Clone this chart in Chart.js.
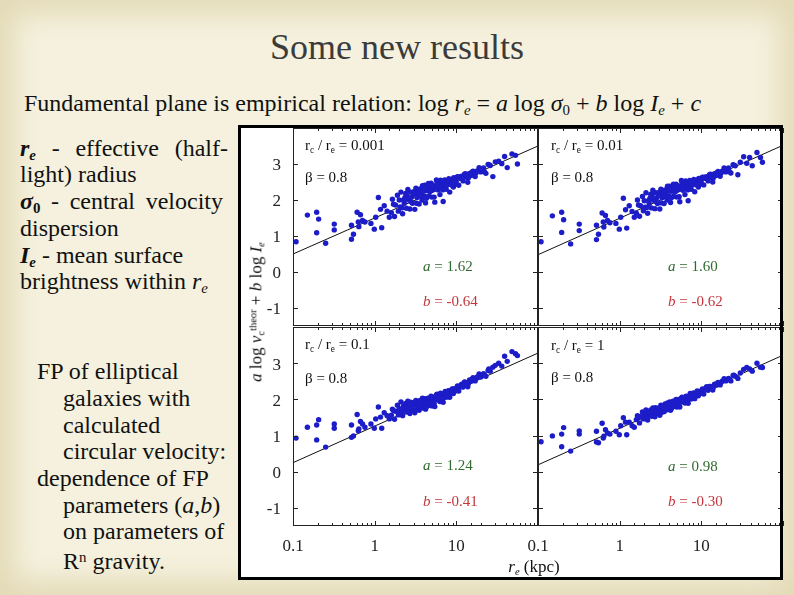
<!DOCTYPE html>
<html>
<head>
<meta charset="utf-8">
<script src="https://cdn.jsdelivr.net/npm/chart.js@4.4.1/dist/chart.umd.min.js"></script>
<style>
  html, body { margin: 0; padding: 0; }
  body {
    width: 794px; height: 595px; position: relative; overflow: hidden;
    background: #f5f1de;
    font-family: "Liberation Serif", "Times New Roman", serif;
    color: #111;
  }
  .edge { position: absolute; left: 0; top: 0; width: 794px; height: 595px;
    box-shadow: inset 0 0 28px 14px #e3dab6; pointer-events: none; }
  .abs { position: absolute; white-space: nowrap; }
  .title { left: 0; width: 794px; top: 29px; text-align: center; font-size: 36px; line-height: 36px; color: #3b3b3b; }
  .sub { left: 24px; top: 91px; font-size: 24px; line-height: 24px; }
  .txt { font-size: 24px; line-height: 24px; }
  .spread { display: flex; justify-content: space-between; }
  .lo { font-size: 0.62em; vertical-align: -0.28em; }
  .hi { font-size: 0.62em; vertical-align: 0.5em; }
  .ptxt { font-size: 15px; line-height: 15px; }
  .green { color: #2f6a2f; }
  .red { color: #c4353a; }
  #figBg { position: absolute; left: 238px; top: 125px; width: 545px; height: 455px; background: #fff; }
  #figBorder { position: absolute; left: 238px; top: 125px; width: 545px; height: 455px;
    border: 3px solid #000; box-sizing: border-box; pointer-events: none; }
  canvas { position: absolute; }
  .ylab { left: 257px; top: 312px; font-size: 17px; line-height: 17px;
    transform: translate(-50%, -50%) rotate(-90deg); }
  .xlab { left: 534px; top: 558px; font-size: 17px; line-height: 17px; transform: translateX(-50%); }
</style>
</head>
<body>
<div class="edge"></div>

<div class="abs title">Some new results</div>
<div class="abs sub">Fundamental plane is empirical relation: log <i>r<span class="lo">e</span></i> = <i>a</i> log <i>σ</i><span class="lo">0</span> + <i>b</i> log <i>I<span class="lo">e</span></i> + <i>c</i></div>

<div class="abs txt spread" style="left:20px; top:136px; width:208px;"><span><b><i>r<span class="lo">e</span></i></b></span><span>-</span><span>effective</span><span>(half-</span></div>
<div class="abs txt" style="left:20px; top:162px;">light) radius</div>
<div class="abs txt spread" style="left:20px; top:189px; width:203px;"><span><b><i>σ</i><span class="lo">0</span></b></span><span>-</span><span>central</span><span>velocity</span></div>
<div class="abs txt" style="left:20px; top:216px;">dispersion</div>
<div class="abs txt" style="left:20px; top:243px;"><b><i>I<span class="lo">e</span></i></b> - mean surface</div>
<div class="abs txt" style="left:20px; top:269px;">brightness within <i>r<span class="lo">e</span></i></div>

<div class="abs txt" style="left:37px; top:359px;">FP of elliptical</div>
<div class="abs txt" style="left:63px; top:386px;">galaxies with</div>
<div class="abs txt" style="left:63px; top:413px;">calculated</div>
<div class="abs txt" style="left:63px; top:439px;">circular velocity:</div>
<div class="abs txt" style="left:37px; top:466px;">dependence of FP</div>
<div class="abs txt" style="left:63px; top:493px;">parameters (<i>a</i>,<i>b</i>)</div>
<div class="abs txt" style="left:63px; top:519px;">on parameters of</div>
<div class="abs txt" style="left:63px; top:545px;">R<span class="hi">n</span> gravity.</div>

<div id="figBg"></div>
<canvas id="pTL" width="294" height="237" style="left:248px; top:124px;"></canvas>
<canvas id="pTR" width="294" height="237" style="left:493px; top:124px;"></canvas>
<canvas id="pBL" width="294" height="238" style="left:248px; top:323px;"></canvas>
<canvas id="pBR" width="294" height="238" style="left:493px; top:323px;"></canvas>

<div class="abs ylab"><i>a</i> log <i>v</i><span class="lo">c</span><span class="hi">theor</span> + <i>b</i> log <i>I<span class="lo">e</span></i></div>
<div class="abs xlab"><i>r<span class="lo">e</span></i> (kpc)</div>

<div id="panelText"></div>
<div id="figBorder"></div>

<script>
// r_e of the galaxies (kpc), same sample in all four panels
const reKpc = [
  0.109,0.15,0.195,0.206,0.195,0.251,0.32,0.32,0.52,0.52,0.55,0.61,0.67,0.63,0.64,0.71,0.76,0.90,0.99,1.03,1.22,1.11,1.18,1.31,1.42,1.51,
  1.6,1.65,1.75,1.8,1.9,1.95,2.0,2.05,2.1,2.2,2.25,2.3,2.4,2.45,2.5,2.6,2.7,2.75,2.85,2.9,3.0,3.1,3.2,3.3,3.4,3.5,3.6,3.7,3.8,3.9,
  4.0,4.1,4.2,4.35,4.5,4.6,4.75,4.9,5.0,5.15,5.3,5.45,5.6,5.8,5.95,6.1,6.3,6.5,6.7,6.9,7.1,7.3,7.5,7.8,8.0,8.3,8.6,8.9,9.2,9.5,
  9.9,10.3,10.7,11.1,11.6,12.1,12.6,13.2,13.8,14.5,15.2,16.0,17.0,18.0,19.0,20.0,21.5,23.0,24.5,26.0,28.0,30.0,33.0,36.0,39.0,42.0,48.0,53.0,56.0,
  1.7,2.15,2.35,2.55,2.8,3.05,3.25,3.45,3.65,3.85,4.05,4.3,4.55,4.8,5.05,5.35,5.7,6.0,6.4,6.8,7.2,7.6,8.1,8.7,9.3,10.0,10.9,11.8,12.9,14.0,15.5,17.5,22.0,25.0
];

// a log v_c + b log I_e, one list per panel
const fpTL = [
  0.84,1.58,1.66,1.47,1.09,0.80,1.33,1.17,1.30,0.91,1.05,1.66,1.59,1.39,1.26,1.43,1.39,1.35,1.19,1.52,1.23,2.07,1.74,1.84,1.69,1.52,
  1.65,2.02,1.54,1.86,2.13,1.69,2.00,1.81,2.22,1.62,2.00,1.91,2.18,1.77,2.12,2.00,1.75,2.22,2.08,1.91,2.16,1.74,2.33,2.07,2.18,1.89,2.31,2.17,2.00,2.29,
  2.12,2.41,1.92,2.26,2.37,2.11,2.33,2.47,2.08,2.29,2.40,1.94,2.35,2.51,2.28,2.44,2.15,2.51,2.38,1.96,2.47,2.54,2.30,2.49,2.55,2.22,2.48,2.57,2.36,2.56,
  2.52,2.65,2.41,2.61,2.66,2.53,2.72,2.64,2.49,2.74,2.68,2.80,2.65,2.81,2.90,2.78,2.89,2.74,2.99,2.96,2.65,3.06,3.08,3.01,3.21,2.90,3.28,3.24,3.00,
  1.88,1.78,2.07,2.29,1.95,2.24,1.91,2.24,2.11,2.40,2.26,2.05,2.46,2.24,2.42,2.08,2.56,2.36,2.55,2.28,2.56,2.40,2.59,2.42,2.62,2.44,2.64,2.60,2.73,2.61,2.77,2.76,2.79,2.98
];
const fpTR = [
  0.84,1.56,1.66,1.45,1.10,0.78,1.33,1.15,1.30,0.90,1.05,1.64,1.57,1.39,1.25,1.43,1.37,1.35,1.19,1.52,1.22,2.05,1.73,1.84,1.68,1.52,
  1.63,2.00,1.55,1.84,2.10,1.70,1.98,1.80,2.20,1.63,1.98,1.90,2.16,1.78,2.10,1.99,1.76,2.20,2.06,1.90,2.14,1.75,2.30,2.06,2.16,1.90,2.28,2.15,2.00,2.27,
  2.11,2.38,1.93,2.24,2.35,2.10,2.31,2.44,2.08,2.28,2.38,1.95,2.33,2.48,2.27,2.42,2.15,2.49,2.37,1.98,2.45,2.52,2.30,2.47,2.53,2.23,2.47,2.55,2.36,2.55,
  2.51,2.63,2.42,2.60,2.65,2.53,2.70,2.63,2.50,2.73,2.68,2.79,2.66,2.80,2.89,2.78,2.89,2.75,2.98,2.95,2.70,3.05,3.20,3.02,3.18,2.95,3.32,3.18,3.05,
  1.86,1.79,2.05,2.27,1.95,2.22,1.92,2.22,2.10,2.38,2.25,2.06,2.44,2.23,2.40,2.09,2.54,2.35,2.53,2.28,2.54,2.40,2.57,2.42,2.60,2.44,2.63,2.59,2.72,2.61,2.76,2.75,2.79,2.97
];
const fpBL = [
  0.93,1.23,1.29,1.44,0.88,0.68,1.32,1.20,1.29,0.95,0.99,1.58,1.39,1.13,1.18,1.32,1.23,1.32,1.20,1.46,1.20,1.79,1.51,1.63,1.55,1.46,
  1.56,1.73,1.45,1.67,1.84,1.57,1.74,1.65,1.93,1.55,1.81,1.72,1.89,1.65,1.84,1.76,1.61,1.92,1.82,1.72,1.86,1.63,1.97,1.80,1.89,1.70,1.97,1.88,1.76,1.95,
  1.84,2.02,1.73,1.95,2.03,1.84,1.98,2.09,1.82,1.97,2.06,1.80,2.03,2.14,1.98,2.11,1.94,2.15,2.07,1.92,2.16,2.22,2.06,2.19,2.24,2.06,2.21,2.29,2.16,2.29,
  2.26,2.37,2.23,2.37,2.42,2.34,2.48,2.43,2.35,2.54,2.50,2.60,2.51,2.62,2.70,2.62,2.71,2.64,2.80,2.78,2.89,2.94,3.00,2.92,3.19,3.05,3.32,3.26,3.21,
  1.69,1.64,1.78,1.95,1.76,1.92,1.72,1.92,1.84,2.03,1.93,1.79,2.02,1.90,2.06,1.89,2.12,2.04,2.17,2.03,2.18,2.12,2.23,2.16,2.29,2.24,2.36,2.35,2.47,2.43,2.55,2.58,2.68,2.84
];
const fpBR = [
  0.83,0.99,1.04,1.22,0.69,0.57,1.13,1.04,1.12,0.82,0.80,1.34,1.16,0.93,0.98,1.07,1.04,1.12,1.02,1.27,1.02,1.49,1.37,1.37,1.27,1.23,
  1.44,1.55,1.35,1.52,1.65,1.46,1.59,1.52,1.71,1.43,1.64,1.59,1.71,1.53,1.69,1.63,1.52,1.77,1.69,1.61,1.75,1.56,1.84,1.71,1.78,1.66,1.87,1.80,1.71,1.86,
  1.77,1.93,1.70,1.87,1.95,1.80,1.91,2.00,1.79,1.91,2.00,1.79,1.96,2.06,1.93,2.04,1.90,2.09,2.00,1.89,2.09,2.16,2.01,2.13,2.18,2.02,2.15,2.23,2.10,2.22,
  2.20,2.29,2.15,2.29,2.35,2.25,2.36,2.32,2.26,2.42,2.39,2.47,2.40,2.50,2.57,2.51,2.58,2.51,2.66,2.64,2.58,2.73,2.83,2.88,2.84,2.78,3.00,2.89,2.88,
  1.52,1.48,1.64,1.76,1.64,1.77,1.64,1.81,1.75,1.90,1.84,1.75,1.93,1.86,1.96,1.84,2.03,1.97,2.06,1.97,2.09,2.06,2.16,2.10,2.21,2.17,2.28,2.27,2.36,2.33,2.43,2.47,2.55,2.67
];

// fitted lines, end points at r_e = 0.1 and 100 kpc
const fitX = [0.1, 100];
const fitTL = [0.50, 3.50];
const fitTR = [0.48, 3.52];
const fitBL = [0.25, 3.28];
const fitBR = [0.19, 3.22];

const rcRatio = ['0.001', '0.01', '0.1', '1'];
const betaVal = ['0.8', '0.8', '0.8', '0.8'];
const aVal = ['1.62', '1.60', '1.24', '0.98'];
const bVal = ['-0.64', '-0.62', '-0.41', '-0.30'];

const xTickLabels = [0.1, 1, 10];
const yTickLabels = [-1, 0, 1, 2, 3];

const AX_W = 45;   // y axis band
const AX_H = 35;   // x axis band
const FONT = 'Liberation Serif';

const isDecade = v => Math.abs(Math.log10(v) - Math.round(Math.log10(v))) < 1e-6;

// frame + inward tick marks, like the original plotting package
const panelFrame = {
    id: 'panelFrame',
    afterDraw(chart) {
        const { ctx, chartArea: { left, right, top, bottom }, scales: { x, y } } = chart;
        ctx.save();
        ctx.strokeStyle = '#222';
        ctx.lineWidth = 1;
        ctx.strokeRect(left + 0.5, top + 0.5, right - left - 1, bottom - top - 1);
        ctx.beginPath();
        x.ticks.forEach(t => {
            const px = Math.round(x.getPixelForValue(t.value)) + 0.5;
            const len = isDecade(t.value) ? 5 : 3;
            ctx.moveTo(px, bottom); ctx.lineTo(px, bottom - len);
            ctx.moveTo(px, top); ctx.lineTo(px, top + len);
        });
        y.ticks.forEach(t => {
            if (!Number.isInteger(t.value)) return;
            const py = Math.round(y.getPixelForValue(t.value)) + 0.5;
            ctx.moveTo(left, py); ctx.lineTo(left + 5, py);
            ctx.moveTo(right, py); ctx.lineTo(right - 5, py);
        });
        ctx.stroke();
        ctx.restore();
    }
};

function makePanel(id, ys, fit, showX, showY) {
    const ctx = document.getElementById(id).getContext('2d');
    return new Chart(ctx, {
        type: 'scatter',
        data: {
            datasets: [
                {
                    data: reKpc.map((x, i) => ({ x: x, y: ys[i] })),
                    backgroundColor: '#1c1cc8',
                    pointRadius: 2.7,
                    pointBorderWidth: 0,
                    order: 0
                },
                {
                    data: fitX.map((x, i) => ({ x: x, y: fit[i] })),
                    showLine: true,
                    borderColor: '#111',
                    borderWidth: 1,
                    pointRadius: 0,
                    order: 1
                }
            ]
        },
        options: {
            responsive: false,
            animation: false,
            events: [],
            layout: { padding: { top: 4, right: 4, left: 0, bottom: 0 } },
            plugins: { legend: { display: false }, tooltip: { enabled: false } },
            scales: {
                x: {
                    type: 'logarithmic',
                    min: 0.1,
                    max: 100,
                    afterFit: s => { s.height = AX_H; s.paddingLeft = 0; s.paddingRight = 0; },
                    grid: { drawOnChartArea: false, drawTicks: false },
                    border: { display: false },
                    ticks: {
                        display: showX,
                        autoSkip: false,
                        maxRotation: 0,
                        padding: 10,
                        color: '#222',
                        font: { family: FONT, size: 17 },
                        callback: v => (isDecade(v) && xTickLabels.some(t => Math.abs(t - v) < 1e-9)) ? String(+v.toPrecision(1)) : ''
                    }
                },
                y: {
                    min: -1.5,
                    max: 4,
                    afterFit: s => { s.width = AX_W; s.paddingTop = 0; s.paddingBottom = 0; },
                    grid: { drawOnChartArea: false, drawTicks: false },
                    border: { display: false },
                    ticks: {
                        display: showY,
                        autoSkip: false,
                        includeBounds: false,
                        stepSize: 1,
                        padding: 12,
                        labelOffset: 2,
                        color: '#222',
                        font: { family: FONT, size: 17 },
                        callback: v => yTickLabels.includes(v) ? String(v) : ''
                    }
                }
            }
        },
        plugins: [panelFrame]
    });
}

makePanel('pTL', fpTL, fitTL, false, true);
makePanel('pTR', fpTR, fitTR, false, false);
makePanel('pBL', fpBL, fitBL, true, true);
makePanel('pBR', fpBR, fitBR, true, false);

// panel annotations
const textPos = [
    { x: 305, a: 423, top: 138, beta: 170, av: 259, bv: 294 },
    { x: 551, a: 668, top: 138, beta: 170, av: 259, bv: 294 },
    { x: 305, a: 423, top: 337, beta: 371, av: 458, bv: 494 },
    { x: 551, a: 668, top: 338, beta: 370, av: 459, bv: 494 }
];
let html = '';
textPos.forEach((p, i) => {
    html += `<div class="abs ptxt" style="left:${p.x}px; top:${p.top}px;">r<span class="lo">c</span> / r<span class="lo">e</span> = ${rcRatio[i]}</div>`;
    html += `<div class="abs ptxt" style="left:${p.x}px; top:${p.beta}px;">β = ${betaVal[i]}</div>`;
    html += `<div class="abs ptxt green" style="left:${p.a}px; top:${p.av}px;"><i>a</i> = ${aVal[i]}</div>`;
    html += `<div class="abs ptxt red" style="left:${p.a}px; top:${p.bv}px;"><i>b</i> = ${bVal[i]}</div>`;
});
document.getElementById('panelText').innerHTML = html;
</script>
</body>
</html>
